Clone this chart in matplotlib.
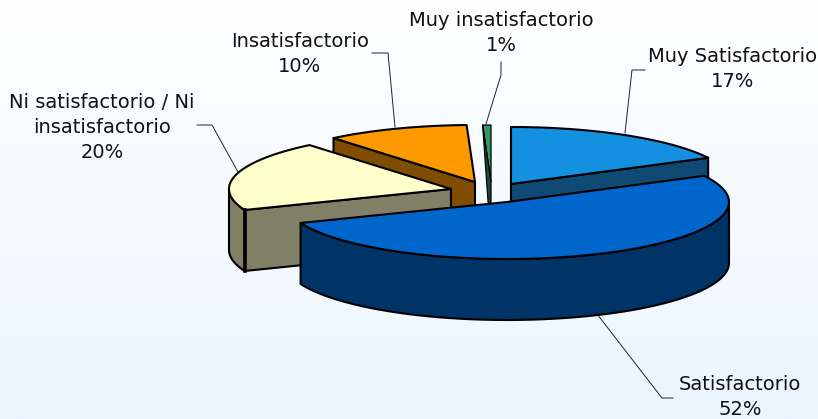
import numpy as np
import matplotlib
matplotlib.use("Agg")
import matplotlib.pyplot as plt
from matplotlib.patches import Polygon

categories = ["Muy Satisfactorio", "Satisfactorio", "Ni satisfactorio / Ni\ninsatisfactorio",
              "Insatisfactorio", "Muy insatisfactorio"]
values = [17.4, 51.6, 20.0, 10.4, 0.6]

top_colors = ["#1490E0", "#0066CC", "#FFFFCC", "#FF9900", "#339966"]
side_colors = ["#0F4A75", "#003366", "#808066", "#804C00", "#1A4D33"]
apex_x = [511, 507, 451, 475, 491]
apex_y = [184, 202, 189, 182, 182]
RX, RY, DEPTH = 222, 57, 61

fig = plt.figure(figsize=(8.18, 4.19), dpi=100)
ax = fig.add_axes([0, 0, 1, 1])
ax.set_xlim(0, 818)
ax.set_ylim(419, 0)
ax.axis("off")

grad = np.linspace(0, 1, 256).reshape(-1, 1, 1)
top = np.array([1, 1, 1]).reshape(1, 1, 3)
bot = np.array([0xEB, 0xF5, 0xFF]).reshape(1, 1, 3) / 255
ax.imshow(top + (bot - top) * grad, extent=[0, 818, 419, 0], aspect="auto", zorder=0)

edges = np.cumsum([0] + values) / sum(values) * 360


def rim(i, a, b, n=80):
    t = np.radians(np.linspace(a, b, n))
    return np.c_[apex_x[i] + RX * np.sin(t), apex_y[i] - RY * np.cos(t)]


def shape(pts, color, z, lw=1.5):
    ax.add_patch(Polygon(pts, closed=True, fc=color, ec="black", lw=lw, joinstyle="round", zorder=z))


down = np.array([0, DEPTH])
z_of = {3: 10, 4: 20, 0: 30, 2: 40, 1: 50}
for i in [3, 4, 0, 2, 1]:
    a, b = edges[i], edges[i + 1]
    z = z_of[i]
    apex = np.array([apex_x[i], apex_y[i]], float)
    arc = rim(i, a, b)
    line = 0.9 if i == 4 else 1.5
    if i == 4:
        # the sliver: its cut face narrows to the foot of the apex
        shape(np.array([arc[0], apex, apex + down]), side_colors[i], z + 3, lw=line)
    elif i == 0:
        p = arc[-1]
        shape(np.array([apex, p, p + down, apex + down]), side_colors[i], z)
    elif i != 1:
        p = arc[0]
        shape(np.array([apex, p, p + down, apex + down]), side_colors[i], z)
    # outer wall, only where it faces the viewer
    lo, hi = max(a, 90), min(b, 270)
    if lo < hi:
        wall = rim(i, lo, hi)
        shape(np.vstack([wall, wall[::-1] + down]), side_colors[i], z + 1)
    shape(np.vstack([apex, arc]), top_colors[i], z + 2, lw=line)

# heavier vertical corner of the pale slice
p = rim(2, edges[2], edges[2] + 0.01)[0]
ax.plot([p[0], p[0]], [p[1], p[1] + DEPTH], color="black", lw=2.6, zorder=43)

leaders = [
    [(625, 133), (632, 70), (645, 70)],
    [(597, 314), (662, 398), (673, 398)],
    [(238, 172), (212, 125), (197, 125)],
    [(395, 127), (388, 53), (372, 53)],
    [(486, 124), (501, 75), (501, 62)],
]
label_xy = [(733, 69), (740, 397), (102, 127), (300, 54), (501, 33)]
for i, name in enumerate(categories):
    xs, ys = zip(*leaders[i])
    ax.plot(xs, ys, color="#222222", lw=0.7, zorder=5)
    ax.text(label_xy[i][0], label_xy[i][1], f"{name}\n{values[i]:.0f}%", ha="center", va="center",
            fontsize=14, family="DejaVu Sans", linespacing=1.4, color="#111111", zorder=60)

fig.savefig("out.png", dpi=100)
